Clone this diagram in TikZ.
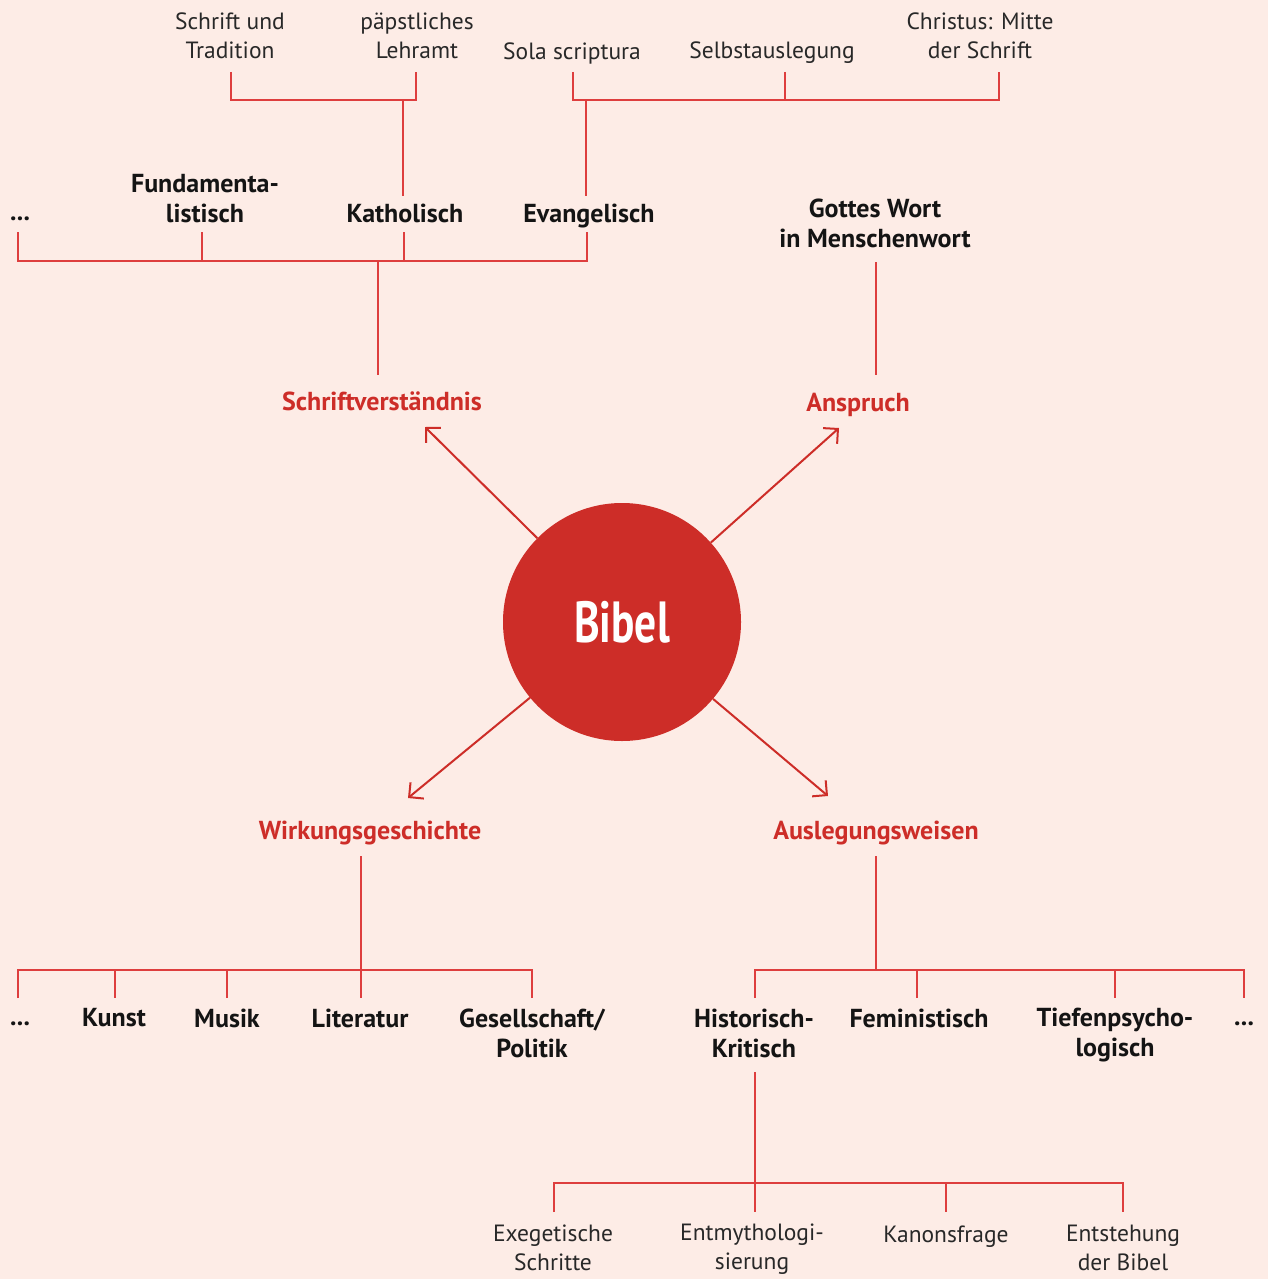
\documentclass[tikz,border=0pt]{standalone}
\usepackage{fontspec}
\setmainfont{PT Sans}
\newfontfamily\bibfont[FakeStretch=0.75]{PT Sans}
\usetikzlibrary{arrows.meta}
\definecolor{bg}{RGB}{253,236,230}
\definecolor{bibred}{RGB}{205,45,40}
\definecolor{linered}{RGB}{222,62,62}
\definecolor{txt}{RGB}{20,20,20}
\definecolor{lighttxt}{RGB}{40,40,40}
\tikzset{
  ln/.style={draw=linered, line width=1.4pt},
  lt/.style={font=\fontsize{23.5}{29}\selectfont, align=center, inner sep=0pt, text=lighttxt},
  bd/.style={font=\fontsize{26}{30}\selectfont\bfseries, align=center, inner sep=0pt, text=txt},
  rd/.style={font=\fontsize{26}{30}\selectfont\bfseries, inner sep=0pt, text=bibred},
  arr/.style={draw=bibred, line width=2pt, -{Straight Barb[length=10.5pt,width=21pt,line width=2pt]}}
}
\begin{document}
\begin{tikzpicture}[x=1pt,y=-1pt]
\fill[bg] (0,0) rectangle (1268,1279);
\useasboundingbox (0,0) rectangle (1268,1279);

% top row
\node[lt] (tradition) at (230,36) {Schrift und\\Tradition};
\node[lt] (lehramt) at (417,36) {päpstliches\\Lehramt};
\node[lt] (sola) at (572,53) {Sola scriptura};
\node[lt] (selbst) at (772,53) {Selbstauslegung};
\node[lt] (christus) at (980,36) {Christus: Mitte\\der Schrift};

% second row
\node[bd] (dots1) at (20,219) {...};
\node[bd] (fund) at (205,199) {Fundamenta-\\listisch};
\node[bd] (kath) at (405,213) {Katholisch};
\node[bd] (evang) at (589,216) {Evangelisch};
\node[bd] (gottes) at (875,223) {Gottes Wort\\in Menschenwort};

% main categories
\node[rd] (schriftv) at (382,401) {Schriftverständnis};
\node[rd] (anspruch) at (858,405) {Anspruch};
\node[rd] (wirkung) at (370,833) {Wirkungsgeschichte};
\node[rd] (ausleg) at (876,833) {Auslegungsweisen};

% centre
\node[circle, fill=bibred, minimum size=238pt, inner sep=0pt, text=white,
      font=\bibfont\fontsize{58}{58}\selectfont\bfseries] (bibel) at (622,622) {Bibel};

% arrows
\coordinate (a1) at (425,427);
\coordinate (a2) at (839,428);
\coordinate (a3) at (408,798);
\coordinate (a4) at (828,796);
\draw[arr] (bibel) -- (a1);
\draw[arr] (bibel) -- (a2);
\draw[arr] (bibel) -- (a3);
\draw[arr] (bibel) -- (a4);

% bottom rows
\node[bd] (dots2) at (20,1024) {...};
\node[bd] (kunst) at (114,1018) {Kunst};
\node[bd] (musik) at (227,1018) {Musik};
\node[bd] (lit) at (360,1018) {Literatur};
\node[bd] (gesell) at (532,1033) {Gesellschaft/\\Politik};

\node[bd] (hist) at (754,1033) {Historisch-\\Kritisch};
\node[bd] (femin) at (919,1018) {Feministisch};
\node[bd] (tiefen) at (1115,1035) {Tiefenpsycho-\\logisch};
\node[bd] (dots3) at (1244,1024) {...};

\node[lt] (exeg) at (553,1248) {Exegetische\\Schritte};
\node[lt] (entmyth) at (752,1249) {Entmythologi-\\sierung};
\node[lt] (kanon) at (946,1237) {Kanonsfrage};
\node[lt] (entst) at (1123,1248) {Entstehung\\der Bibel};

% junctions
\coordinate (jk) at (403,100);
\coordinate (je) at (586,100);
\coordinate (js) at (378,261);
\coordinate (jw) at (361,970);
\coordinate (ja) at (876,970);
\coordinate (jh) at (755,1183);

% Katholisch bracket
\draw[ln] (231,72) -- (231,100) -- (416,100) -- (416,72);
\draw[ln] (jk) -- (403,196);
% Evangelisch bracket
\draw[ln] (573,72) -- (573,100) -- (999,100) -- (999,72);
\draw[ln] (785,72) -- (785,100);
\draw[ln] (je) -- (586,196);
% Schriftverstaendnis bracket
\draw[ln] (18,232) -- (18,261) -- (587,261) -- (587,232);
\draw[ln] (202,232) -- (202,261);
\draw[ln] (404,232) -- (404,261);
\draw[ln] (js) -- (378,375);
% Anspruch
\draw[ln] (876,262) -- (876,375);
% Wirkungsgeschichte
\draw[ln] (361,856) -- (jw);
\draw[ln] (18,998) -- (18,970) -- (532,970) -- (532,998);
\draw[ln] (115,970) -- (115,998);
\draw[ln] (227,970) -- (227,998);
\draw[ln] (jw) -- (361,998);
% Auslegungsweisen
\draw[ln] (876,856) -- (ja);
\draw[ln] (755,998) -- (755,970) -- (1244,970) -- (1244,998);
\draw[ln] (917,970) -- (917,998);
\draw[ln] (1115,970) -- (1115,998);
% Historisch-Kritisch
\draw[ln] (755,1072) -- (jh);
\draw[ln] (554,1212) -- (554,1183) -- (1123,1183) -- (1123,1212);
\draw[ln] (jh) -- (755,1212);
\draw[ln] (946,1183) -- (946,1212);
\end{tikzpicture}
\end{document}
